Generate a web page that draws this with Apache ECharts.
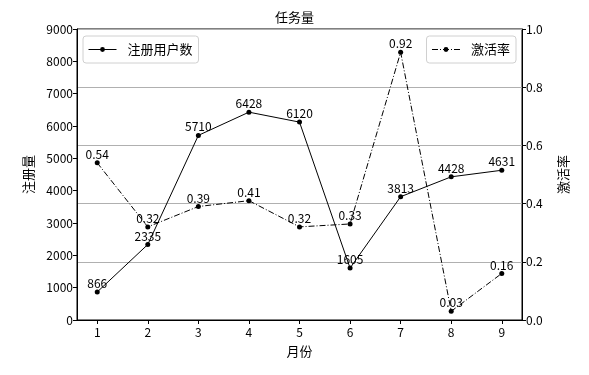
<!DOCTYPE html>
<html>
<head>
<meta charset="utf-8">
<script src="https://cdn.jsdelivr.net/npm/echarts@6/dist/echarts.min.js"></script>
<style>html,body{margin:0;padding:0;background:#fff;}#c{width:589px;height:375px;}</style>
</head>
<body>
<div id="c"></div>
<script>
const months = [1, 2, 3, 4, 5, 6, 7, 8, 9];
const users = [866, 2335, 5710, 6428, 6120, 1605, 3813, 4428, 4631];
const rates = [0.54, 0.32, 0.39, 0.41, 0.32, 0.33, 0.92, 0.03, 0.16];
const leftTicks = [0, 1000, 2000, 3000, 4000, 5000, 6000, 7000, 8000, 9000];
const rightTicks = [0.0, 0.2, 0.4, 0.6, 0.8, 1.0];

const FONT = '"Noto Sans CJK SC", sans-serif';
const chart = echarts.init(document.getElementById('c'), null, {renderer: 'canvas'});
const axisCommon = {
  axisLine: {show: true, lineStyle: {color: '#000', width: 1}},
  axisTick: {show: true, inside: false, length: 4, lineStyle: {color: '#000'}},
  axisLabel: {color: '#000', fontSize: 12, fontFamily: FONT, margin: 4},
  nameTextStyle: {color: '#000', fontSize: 13, fontFamily: FONT}
};
const legendCommon = {
  top: 36, itemWidth: 28, itemHeight: 6, padding: [7, 6, 7, 5],
  borderColor: '#d0d0d0', borderWidth: 1, borderRadius: 3, backgroundColor: 'rgba(255,255,255,0.85)',
  lineStyle: {width: 1},
  textStyle: {color: '#000', fontSize: 13, fontFamily: FONT, padding: [0, 0, 0, 6]}
};
chart.setOption({
  animation: false,
  backgroundColor: '#fff',
  title: {text: '任务量', left: 'center', top: 6, textStyle: {color: '#000', fontSize: 13, fontWeight: 'normal', fontFamily: FONT}},
  grid: {left: 77, right: 67, top: 29, bottom: 55, show: true, borderColor: '#000', borderWidth: 1, backgroundColor: 'transparent'},
  legend: [
    Object.assign({}, legendCommon, {data: ['注册用户数'], left: 83}),
    Object.assign({}, legendCommon, {data: ['激活率'], right: 73})
  ],
  xAxis: Object.assign({}, axisCommon, {
    type: 'value', min: 0.6, max: 9.4,
    name: '月份', nameLocation: 'middle', nameGap: 25,
    axisLabel: Object.assign({}, axisCommon.axisLabel, {customValues: months, margin: 6}),
    axisTick: Object.assign({}, axisCommon.axisTick, {customValues: months}),
    splitLine: {show: false}
  }),
  yAxis: [
    Object.assign({}, axisCommon, {
      type: 'value', min: 0, max: 9000, interval: 1000, position: 'left',
      name: '注册量', nameLocation: 'middle', nameGap: 42, nameRotate: 90,
      axisLabel: Object.assign({}, axisCommon.axisLabel, {formatter: v => String(v)}),
      splitLine: {show: false}
    }),
    Object.assign({}, axisCommon, {
      type: 'value', min: 0, max: 1, interval: 0.2, position: 'right',
      name: '激活率', nameLocation: 'middle', nameGap: 35, nameRotate: 90,
      axisLabel: Object.assign({}, axisCommon.axisLabel, {formatter: v => v.toFixed(1)}),
      splitLine: {show: true, lineStyle: {color: '#b0b0b0', width: 1}}
    })
  ],
  series: [
    {name: '注册用户数', type: 'line', yAxisIndex: 0,
     data: months.map((m, i) => [m, users[i]]),
     symbol: 'circle', symbolSize: 5, showAllSymbol: true,
     itemStyle: {color: '#000'}, lineStyle: {color: '#000', width: 1},
     label: {show: true, position: 'top', distance: 0, color: '#000', fontSize: 12, fontFamily: FONT,
             formatter: p => String(p.value[1])}},
    {name: '激活率', type: 'line', yAxisIndex: 1,
     data: months.map((m, i) => [m, rates[i]]),
     symbol: 'circle', symbolSize: 5, showAllSymbol: true,
     itemStyle: {color: '#000'}, lineStyle: {color: '#000', width: 1, type: [6, 2, 1, 2]},
     label: {show: true, position: 'top', distance: 0, color: '#000', fontSize: 12, fontFamily: FONT,
             formatter: p => p.value[1].toFixed(2)}}
  ]
});
</script>
</body>
</html>
